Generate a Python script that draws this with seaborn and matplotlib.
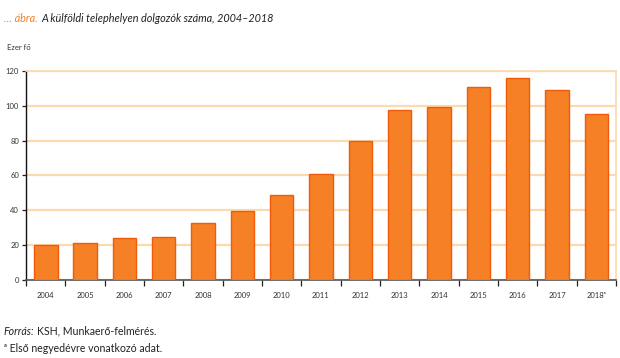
import numpy as np
import pandas as pd
import matplotlib
matplotlib.use("Agg")
import matplotlib.pyplot as plt
import seaborn as sns

# ---------------- DATA ----------------
years = ["2004", "2005", "2006", "2007", "2008", "2009", "2010", "2011",
         "2012", "2013", "2014", "2015", "2016", "2017", "2018ᵃ"]
workers = [20.2, 21.3, 23.9, 24.8, 32.5, 39.5, 48.5, 60.9,
           79.5, 97.5, 99.4, 111.0, 116.1, 109.0, 95.3]
y_ticks = [0, 20, 40, 60, 80, 100, 120]

df = pd.DataFrame({"year": years, "workers": workers})

# ---------------- STYLE ----------------
sns.set_style("white")
plt.rcParams["font.family"] = ["Lato", "DejaVu Sans"]

BAR = "#F58025"
EDGE = "#F15A0A"
GRID = "#FDD9AE"
TXT = "#333333"

fig = plt.figure(figsize=(6.2, 3.58), dpi=100)
ax = fig.add_axes([0.042, 0.218, 0.9515, 0.584])

sns.barplot(data=df, x="year", y="workers", color=BAR, width=0.6,
            saturation=1, edgecolor=EDGE, linewidth=1.0, ax=ax, zorder=3)

ax.set_ylim(0, 120)
ax.set_xlim(-0.5, len(years) - 0.5)
ax.set_yticks(y_ticks)
ax.yaxis.grid(True, color=GRID, linewidth=1.6, zorder=0)
ax.set_axisbelow(True)

# spines
for side in ["top", "right"]:
    ax.spines[side].set_color(GRID)
    ax.spines[side].set_linewidth(1.2)
ax.spines["left"].set_color("#111111")
ax.spines["left"].set_linewidth(1.0)
ax.spines["bottom"].set_color("#555555")
ax.spines["bottom"].set_linewidth(1.2)

# ticks: labels centred, marks between categories
ax.set_xticks(np.arange(-0.5, len(years)), minor=True)
ax.tick_params(axis="x", which="major", length=0, pad=9,
               labelsize=5.5, labelcolor=TXT)
ax.tick_params(axis="x", which="minor", length=4, width=0.9,
               color="#222222", direction="out", bottom=True)
ax.tick_params(axis="y", which="major", length=3, width=0.9,
               color="#222222", labelsize=5.5, labelcolor=TXT, pad=2,
               left=True)
ax.set_xlabel("")
ax.set_ylabel("")

# ---------------- TEXT ----------------
renderer = fig.canvas.get_renderer()


def text_after(prev, s, **kw):
    # place a text right after another one on the same line
    bb = prev.get_window_extent(renderer=renderer)
    x = bb.x1 / fig.bbox.width + 0.005
    return fig.text(x, prev.get_position()[1], s, ha="left", va="center", **kw)


t1 = fig.text(0.007, 0.948, "… ábra.", color="#F58025", fontsize=7.8,
              style="italic", ha="left", va="center")
text_after(t1, "A külföldi telephelyen dolgozók száma, 2004–2018",
           color="#222222", fontsize=7.8, style="italic")
fig.text(0.011, 0.866, "Ezer fő", color=TXT, fontsize=5.5,
         ha="left", va="center")
f1 = fig.text(0.006, 0.075, "Forrás:", color="#222222", fontsize=7.6,
              style="italic", ha="left", va="center")
text_after(f1, "KSH, Munkaerő-felmérés.", color="#222222", fontsize=7.6)
fig.text(0.006, 0.027, "ᵃ Első negyedévre vonatkozó adat.", color="#222222",
         fontsize=7.6, ha="left", va="center")

fig.savefig("out.png", dpi=100)
